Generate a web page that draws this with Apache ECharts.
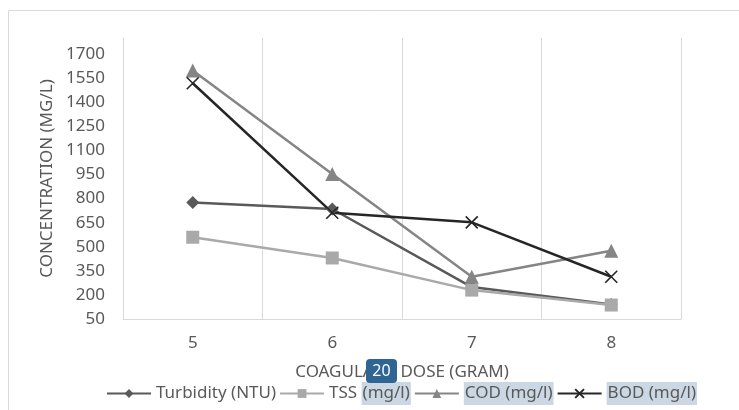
<!DOCTYPE html>
<html>
<head>
<meta charset="utf-8">
<script src="https://cdn.jsdelivr.net/npm/echarts@6/dist/echarts.min.js"></script>
<style>html,body{margin:0;padding:0;background:#fff;}#c{width:739px;height:410px;}</style>
</head>
<body>
<div id="c"></div>
<script>
const categories = ['5', '6', '7', '8'];
const turbidity = [775, 735, 249, 140];
const tss = [559, 430, 230, 137];
const cod = [1598, 953, 313, 475];
const bod = [1518, 712, 652, 313];
const yMin = 50, yMax = 1800, yInterval = 150;
const seriesNames = ['Turbidity (NTU)', 'TSS (mg/l)', 'COD (mg/l)', 'BOD (mg/l)'];

const FONT = 'Noto Sans';
const TXT = '#595959';
const chart = echarts.init(document.getElementById('c'), null, {renderer: 'canvas'});

function mk(name, data, color, symbol, size, extra) {
  return Object.assign({
    name: name, type: 'line', data: data,
    symbol: symbol, symbolSize: size,
    lineStyle: {color: color, width: 2.5},
    itemStyle: {color: color},
    emphasis: {disabled: true}
  }, extra || {});
}

chart.setOption({
  animation: false,
  textStyle: {fontFamily: FONT},
  grid: {left: 123, right: 58, top: 38, bottom: 91},
  graphic: [
    {type: 'rect', shape: {x: 8.5, y: 10.5, width: 760, height: 420},
     style: {fill: 'none', stroke: '#d9d9d9', lineWidth: 1}, z: 0, silent: true},
    {type: 'rect', zlevel: 2, z: 100, shape: {x: 366, y: 359, width: 31, height: 24, r: 4},
     style: {fill: '#2e6592'}, silent: true},
    {type: 'text', zlevel: 2, z: 101, x: 381.5, y: 371,
     style: {text: '20', fill: '#ffffff', font: '16px "Noto Sans"', align: 'center', verticalAlign: 'middle'}, silent: true}
  ],
  legend: {
    top: 377, left: 101,
    itemWidth: 44, itemHeight: 11, itemGap: 3,
    data: seriesNames,
    textStyle: {
      color: TXT, fontSize: 17, fontFamily: FONT,
      rich: {
        n: {color: TXT, fontSize: 17, fontFamily: FONT, padding: [3, 0, 3, 0]},
        h: {color: TXT, fontSize: 17, fontFamily: FONT, backgroundColor: '#cbd8e3', padding: [3, 1, 3, 1]}
      }
    },
    formatter: function (name) {
      if (name === 'TSS (mg/l)') return '{n|TSS }{h|(mg/l)}';
      if (name === 'COD (mg/l)') return '{h|COD (mg/l)}';
      if (name === 'BOD (mg/l)') return '{h|BOD (mg/l)}';
      return '{n|' + name + '}';
    }
  },
  xAxis: {
    type: 'category', data: categories, boundaryGap: true,
    name: 'COAGULANT DOSE (GRAM)', nameLocation: 'middle', nameGap: 45,
    nameTextStyle: {color: TXT, fontSize: 17, fontFamily: FONT},
    axisLine: {show: true, lineStyle: {color: '#d9d9d9', width: 1}},
    axisTick: {show: false},
    axisLabel: {color: TXT, fontSize: 17, fontFamily: FONT, margin: 16},
    splitLine: {show: true, lineStyle: {color: '#d9d9d9', width: 1}}
  },
  yAxis: {
    type: 'value', min: yMin, max: yMax, interval: yInterval,
    name: 'CONCENTRATION (MG/L)', nameLocation: 'middle', nameGap: 59,
    nameTextStyle: {color: TXT, fontSize: 17, fontFamily: FONT},
    axisLine: {show: true, lineStyle: {color: '#d9d9d9', width: 1}},
    axisTick: {show: false},
    splitLine: {show: false},
    axisLabel: {color: TXT, fontSize: 17, fontFamily: FONT, margin: 18,
      formatter: function (v) { return v > 1700 ? '' : String(v); }}
  },
  series: [
    mk(seriesNames[0], turbidity, '#595959', 'diamond', 13),
    mk(seriesNames[1], tss, '#a9a9a9', 'rect', 13),
    mk(seriesNames[2], cod, '#858585', 'triangle', 14),
    mk(seriesNames[3], bod, '#262626', 'path://M0,0L10,10M10,0L0,10', 12, {
      itemStyle: {color: '#262626', borderColor: '#262626', borderWidth: 1.6}
    })
  ]
});
</script>
</body>
</html>
